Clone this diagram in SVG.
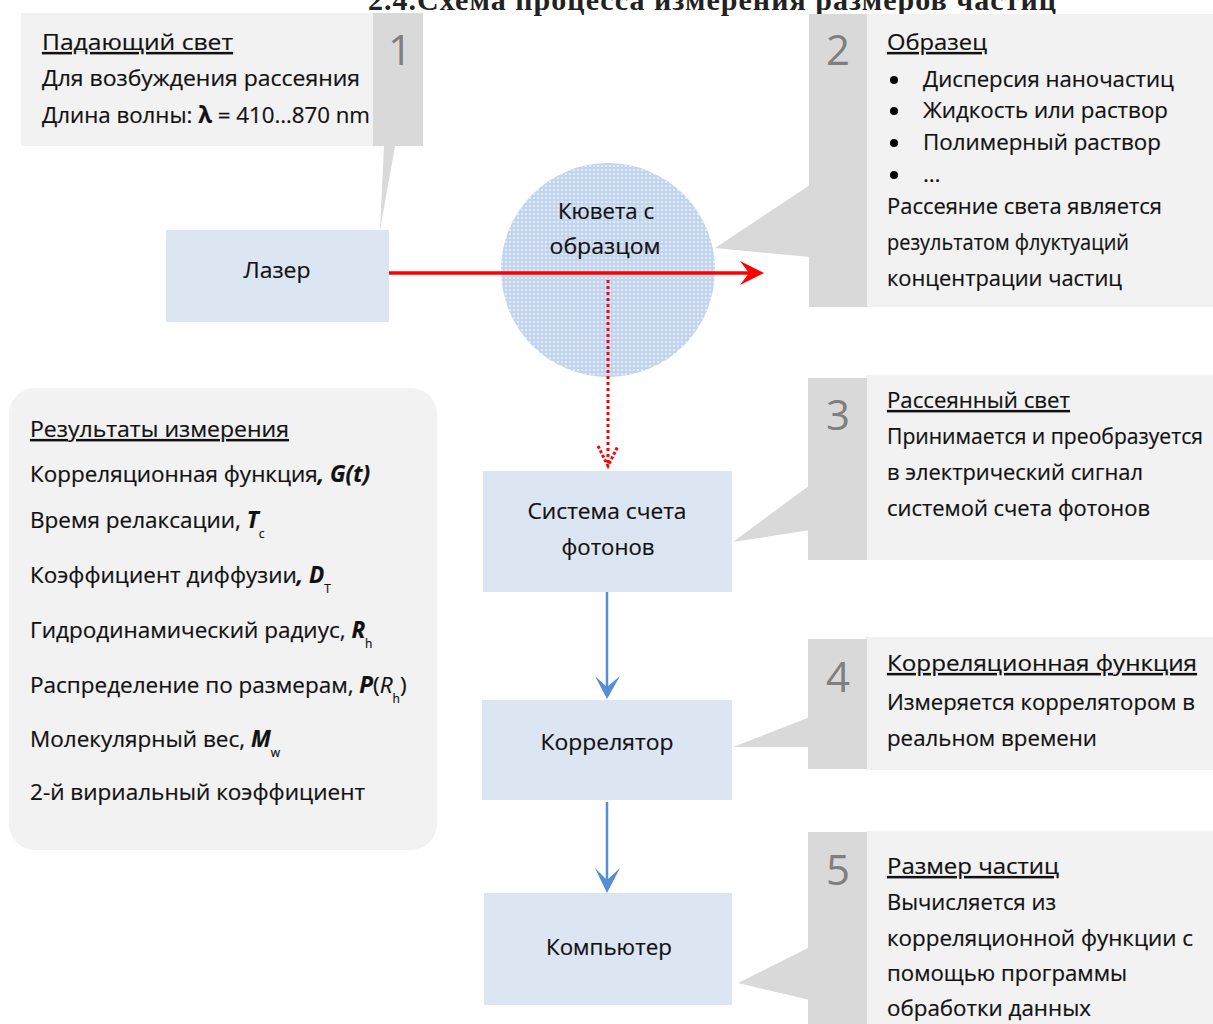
<svg xmlns="http://www.w3.org/2000/svg" width="1213" height="1024" viewBox="0 0 1213 1024">
<style>
.t{font-family:"Open Sans","Noto Sans","DejaVu Sans",sans-serif;font-size:22.5px;fill:#111;stroke:#111;stroke-width:0.2}
.c{text-anchor:middle}
.u{text-decoration:underline}
.num{font-family:"Open Sans","Noto Sans",sans-serif;font-size:42px;fill:#7f7f7f;text-anchor:middle}
.node{fill:#dce6f2}
.panel{fill:#f2f2f2}
.strip{fill:#d9d9d9}
.bi{font-weight:bold;font-style:italic}
.sub{font-size:12px}
.title{font-family:"Liberation Serif","Times New Roman",serif;font-weight:bold;font-size:30px;fill:#222;text-anchor:middle}
</style>
<defs>
<pattern id="dots" width="4" height="4" patternUnits="userSpaceOnUse">
<rect width="4" height="4" fill="#c3d5ee"/>
<circle cx="2" cy="2" r="1" fill="#eef3fa"/>
</pattern>
</defs>

<text class="title" x="712" y="10" textLength="688">2.4.Схема процесса измерения размеров частиц</text>

<g id="callout1">
<rect class="panel" x="21" y="13" width="353" height="133"/>
<rect class="strip" x="373" y="13" width="50" height="133"/>
<polygon class="strip" points="384,146 395,146 380,230"/>
<text class="num" x="400" y="65">1</text>
<text class="t u" x="42" y="50" textLength="191" lengthAdjust="spacingAndGlyphs">Падающий свет</text>
<text class="t" x="42" y="86" textLength="318" lengthAdjust="spacingAndGlyphs">Для возбуждения рассеяния</text>
<text class="t" x="42" y="123" textLength="328" lengthAdjust="spacingAndGlyphs">Длина волны: <tspan font-weight="bold">λ</tspan> = 410…870 nm</text>
</g>

<g id="callout2">
<rect class="panel" x="866" y="14" width="347" height="293"/>
<rect class="strip" x="809" y="14" width="58" height="293"/>
<polygon class="strip" points="810,185 715,248 810,257"/>
<text class="num" x="838" y="65">2</text>
<text class="t u" x="887" y="50" textLength="100" lengthAdjust="spacingAndGlyphs">Образец</text>
<circle cx="894" cy="80" r="4" fill="#000"/>
<circle cx="894" cy="111" r="4" fill="#000"/>
<circle cx="894" cy="143" r="4" fill="#000"/>
<circle cx="894" cy="175" r="4" fill="#000"/>
<text class="t" x="923" y="87" textLength="251" lengthAdjust="spacingAndGlyphs">Дисперсия наночастиц</text>
<text class="t" x="923" y="118" textLength="245" lengthAdjust="spacingAndGlyphs">Жидкость или раствор</text>
<text class="t" x="923" y="150" textLength="238" lengthAdjust="spacingAndGlyphs">Полимерный раствор</text>
<text class="t" x="923" y="182">…</text>
<text class="t" x="887" y="214" textLength="275" lengthAdjust="spacingAndGlyphs">Рассеяние света является</text>
<text class="t" x="887" y="250" textLength="242" lengthAdjust="spacingAndGlyphs">результатом флуктуаций</text>
<text class="t" x="887" y="286" textLength="235" lengthAdjust="spacingAndGlyphs">концентрации частиц</text>
</g>

<g id="callout3">
<rect class="panel" x="866" y="375" width="347" height="185"/>
<rect class="strip" x="808" y="378" width="59" height="182"/>
<polygon class="strip" points="810,485 733,542 810,530"/>
<text class="num" x="838" y="430">3</text>
<text class="t u" x="887" y="408" textLength="183" lengthAdjust="spacingAndGlyphs">Рассеянный свет</text>
<text class="t" x="887" y="444" font-size="21" style="font-size:21px" textLength="316" lengthAdjust="spacingAndGlyphs">Принимается и преобразуется</text>
<text class="t" x="887" y="480" textLength="256" lengthAdjust="spacingAndGlyphs">в электрический сигнал</text>
<text class="t" x="887" y="516" textLength="263" lengthAdjust="spacingAndGlyphs">системой счета фотонов</text>
</g>

<g id="callout4">
<rect class="panel" x="866" y="637" width="347" height="133"/>
<rect class="strip" x="808" y="639" width="59" height="130"/>
<polygon class="strip" points="810,717 733,747 810,747"/>
<text class="num" x="838" y="692">4</text>
<text class="t u" x="887" y="671" textLength="310" lengthAdjust="spacingAndGlyphs">Корреляционная функция</text>
<text class="t" x="887" y="710" textLength="308" lengthAdjust="spacingAndGlyphs">Измеряется коррелятором в</text>
<text class="t" x="887" y="746" textLength="210" lengthAdjust="spacingAndGlyphs">реальном времени</text>
</g>

<g id="callout5">
<rect class="panel" x="866" y="831" width="347" height="193"/>
<rect class="strip" x="808" y="832" width="59" height="192"/>
<polygon class="strip" points="810,947 738,983 810,1000"/>
<text class="num" x="838" y="885">5</text>
<text class="t u" x="887" y="874" textLength="172" lengthAdjust="spacingAndGlyphs">Размер частиц</text>
<text class="t" x="887" y="910" textLength="169" lengthAdjust="spacingAndGlyphs">Вычисляется из</text>
<text class="t" x="887" y="946" textLength="306" lengthAdjust="spacingAndGlyphs">корреляционной  функции с</text>
<text class="t" x="887" y="981" textLength="240" lengthAdjust="spacingAndGlyphs">помощью программы</text>
<text class="t" x="887" y="1016" textLength="204" lengthAdjust="spacingAndGlyphs">обработки данных</text>
</g>

<g id="results">
<rect class="panel" x="9" y="388" width="428" height="462" rx="26"/>
<text class="t u" x="30" y="437" textLength="259" lengthAdjust="spacingAndGlyphs">Результаты измерения</text>
<text class="t" x="30" y="482" textLength="340" lengthAdjust="spacingAndGlyphs">Корреляционная функция<tspan class="bi">, G(t)</tspan></text>
<text class="t" x="30" y="528">Время релаксации, <tspan class="bi">T</tspan><tspan class="sub" dy="10">c</tspan></text>
<text class="t" x="30" y="583">Коэффициент диффузии<tspan class="bi">, D</tspan><tspan class="sub" dy="10">T</tspan></text>
<text class="t" x="30" y="638">Гидродинамический радиус, <tspan class="bi">R</tspan><tspan class="sub" dy="10">h</tspan></text>
<text class="t" x="30" y="693">Распределение по размерам, <tspan class="bi">P</tspan>(<tspan font-style="italic">R</tspan><tspan class="sub" dy="10">h</tspan><tspan dy="-10">)</tspan></text>
<text class="t" x="30" y="747">Молекулярный вес, <tspan class="bi">M</tspan><tspan class="sub" dy="10">w</tspan></text>
<text class="t" x="30" y="800" textLength="335" lengthAdjust="spacingAndGlyphs">2-й вириальный коэффициент</text>
</g>

<g id="laser">
<rect class="node" x="166" y="230" width="223" height="92"/>
<text class="t c" x="277" y="278" textLength="67" lengthAdjust="spacingAndGlyphs">Лазер</text>
</g>

<g id="cuvette">
<ellipse cx="608" cy="270" rx="107" ry="107" fill="url(#dots)"/>
<text class="t c" x="606" y="219" textLength="96" lengthAdjust="spacingAndGlyphs">Кювета с</text>
<text class="t c" x="605" y="254" textLength="111" lengthAdjust="spacingAndGlyphs">образцом</text>
</g>

<g id="photon">
<rect class="node" x="483" y="471" width="249" height="121"/>
<text class="t c" x="607" y="519" textLength="159" lengthAdjust="spacingAndGlyphs">Система счета</text>
<text class="t c" x="608" y="555" textLength="93" lengthAdjust="spacingAndGlyphs">фотонов</text>
</g>

<g id="correlator">
<rect class="node" x="482" y="700" width="250" height="100"/>
<text class="t c" x="607" y="750" textLength="133" lengthAdjust="spacingAndGlyphs">Коррелятор</text>
</g>

<g id="computer">
<rect class="node" x="484" y="893" width="248" height="112"/>
<text class="t c" x="609" y="955" textLength="126" lengthAdjust="spacingAndGlyphs">Компьютер</text>
</g>

<g id="connectors">
<line x1="389" y1="273" x2="752" y2="273" stroke="#ff0000" stroke-width="3.5"/>
<polygon points="764,273 740,261 749,273 740,285" fill="#ff0000"/>
<line x1="608" y1="280" x2="608" y2="464" stroke="#ff0000" stroke-width="3" stroke-dasharray="3,3"/>
<polyline points="598,446 608,466 618,446" fill="none" stroke="#ff0000" stroke-width="3" stroke-dasharray="3,2"/>
<line x1="607" y1="592" x2="607" y2="688" stroke="#558ed5" stroke-width="2.5"/>
<polygon points="607,699 595,676 607,687 620,676" fill="#558ed5"/>
<line x1="607" y1="802" x2="607" y2="882" stroke="#558ed5" stroke-width="2.5"/>
<polygon points="607,893 595,868 607,880 620,868" fill="#558ed5"/>
</g>
</svg>
